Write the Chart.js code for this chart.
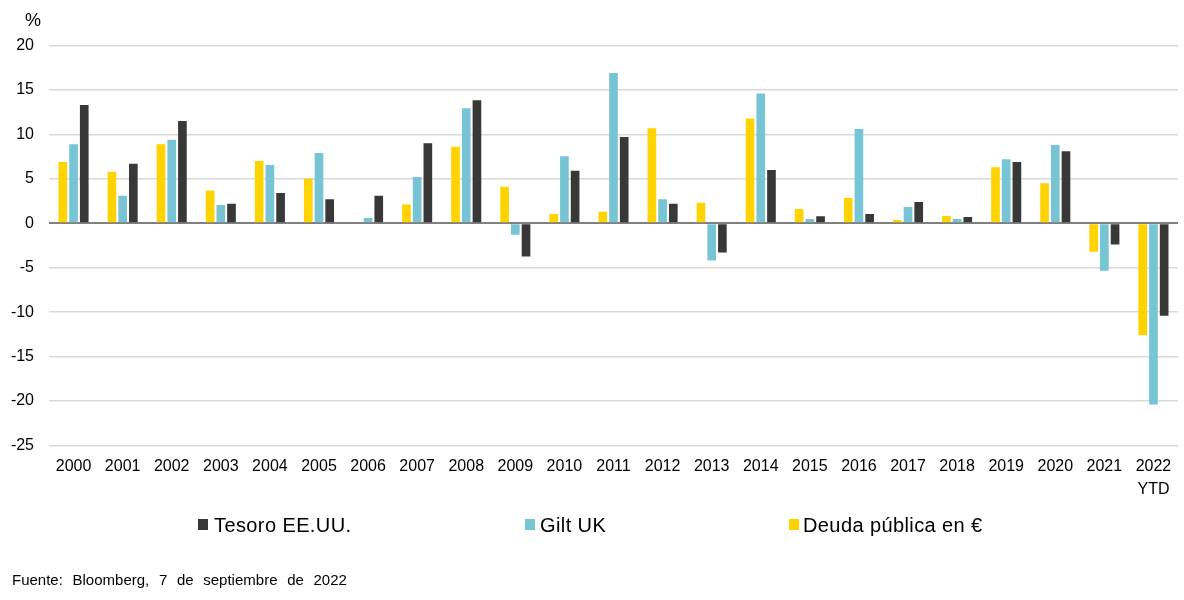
<!DOCTYPE html>
<html>
<head>
<meta charset="utf-8">
<script src="https://cdn.jsdelivr.net/npm/chart.js@4/dist/chart.umd.min.js"></script>
<style>
  html, body { margin: 0; padding: 0; background: #fff; }
  #wrap { position: relative; width: 1184px; height: 600px; font-family: "Liberation Sans", Arial, sans-serif; color: #000; }
  #c { position: absolute; left: 0; top: 0; }
  .abs { position: absolute; white-space: nowrap; }
  .lg { position: absolute; font-size: 20px; letter-spacing: 0.4px; line-height: 20px; top: 515px; white-space: nowrap; }
  .box { position: absolute; width: 10px; height: 11px; top: 519px; }
</style>
</head>
<body>
<div id="wrap">
  <canvas id="c" width="1184" height="600"></canvas>
  <div class="abs" style="left:25px; top:10px; font-size:18px;">%</div>
  <div class="box" style="left:198px; background:#383838;"></div>
  <div class="lg" style="left:214px;">Tesoro EE.UU.</div>
  <div class="box" style="left:525px; background:#77C5D4;"></div>
  <div class="lg" style="left:540px;">Gilt UK</div>
  <div class="box" style="left:789px; background:#FFD300;"></div>
  <div class="lg" style="left:803px;">Deuda pública en €</div>
  <div class="abs" style="left:12px; top:571px; font-size:15px; word-spacing:5.5px;">Fuente: Bloomberg, 7 de septiembre de 2022</div>
</div>
<script>
const categories = ['2000','2001','2002','2003','2004','2005','2006','2007','2008','2009','2010','2011','2012','2013','2014','2015','2016','2017','2018','2019','2020','2021',['2022','YTD']];
const deudaEuro = [6.9, 5.8, 8.9, 3.7, 7.0, 5.0, 0.0, 2.1, 8.6, 4.1, 1.05, 1.3, 10.7, 2.3, 11.8, 1.6, 2.85, 0.37, 0.82, 6.3, 4.5, -3.2, -12.6];
const giltUK = [8.9, 3.1, 9.4, 2.05, 6.55, 7.9, 0.6, 5.2, 12.95, -1.3, 7.55, 16.9, 2.7, -4.2, 14.6, 0.48, 10.6, 1.83, 0.48, 7.2, 8.8, -5.35, -20.4];
const tesoroUS = [13.3, 6.7, 11.5, 2.2, 3.4, 2.7, 3.1, 9.0, 13.85, -3.75, 5.9, 9.7, 2.2, -3.3, 6.0, 0.8, 1.05, 2.4, 0.7, 6.9, 8.1, -2.4, -10.4];
const yTicks = [20, 15, 10, 5, 0, -5, -10, -15, -20, -25];

const FONT = "'Liberation Sans', Arial, sans-serif";

new Chart(document.getElementById('c'), {
  type: 'bar',
  data: {
    labels: categories,
    datasets: [
      { label: 'Deuda pública en €', data: deudaEuro, backgroundColor: '#FFD300' },
      { label: 'Gilt UK', data: giltUK, backgroundColor: '#77C5D4' },
      { label: 'Tesoro EE.UU.', data: tesoroUS, backgroundColor: '#383838' }
    ]
  },
  options: {
    responsive: false,
    animation: false,
    events: [],
    layout: { padding: { top: 45.5, bottom: 94.5, left: 0, right: 6 } },
    datasets: { bar: { categoryPercentage: 0.654, barPercentage: 0.81 } },
    plugins: { legend: { display: false }, tooltip: { enabled: false } },
    scales: {
      x: {
        grid: { display: false, drawTicks: false },
        border: { display: false },
        ticks: { color: '#000', font: { family: FONT, size: 16, lineHeight: 1.4 }, padding: 10, maxRotation: 0, autoSkip: false },
        afterFit: (s) => { s.height = 60; }
      },
      y: {
        min: Math.min(...yTicks),
        max: Math.max(...yTicks),
        afterBuildTicks: (s) => { s.ticks = yTicks.map(v => ({ value: v })); },
        grid: {
          drawTicks: false,
          color: (ctx) => ctx.tick && ctx.tick.value === 0 ? '#808080' : '#D9D9D9',
          lineWidth: (ctx) => ctx.tick && ctx.tick.value === 0 ? 2 : 1.5
        },
        border: { display: false },
        ticks: { color: '#000', font: { family: FONT, size: 16 }, padding: 15 },
        afterFit: (s) => { s.width = 49; }
      }
    }
  }
});
</script>
</body>
</html>
